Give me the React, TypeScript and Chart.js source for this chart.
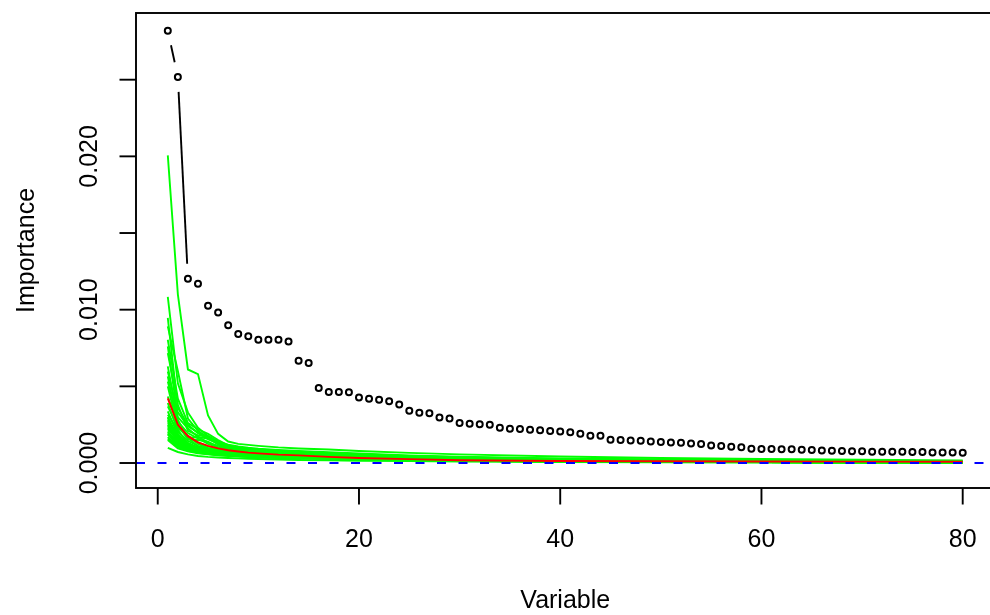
import React, { useEffect, useRef } from "react";
import { Chart, registerables } from "chart.js";

Chart.register(...registerables);

// ---------- data ----------
const variableIndex = Array.from({ length: 80 }, (_, i) => i + 1);

const observedImportance = [
  0.0282, 0.02518, 0.01202, 0.01169, 0.01026, 0.00982, 0.00898, 0.00841, 0.00826, 0.00804,
  0.00804, 0.00804, 0.00793, 0.00667, 0.00652, 0.00489, 0.00463, 0.00463, 0.00461, 0.00428,
  0.00419, 0.00413, 0.00402, 0.00382, 0.00341, 0.00328, 0.00324, 0.00297, 0.00291, 0.00261,
  0.00256, 0.00252, 0.0025, 0.0023, 0.00224, 0.00222, 0.00217, 0.00213, 0.00209, 0.00206,
  0.002, 0.00191, 0.00178, 0.00178, 0.00152, 0.0015, 0.00147, 0.00145, 0.00141, 0.00137,
  0.00134, 0.00132, 0.00128, 0.00124, 0.00115, 0.00111, 0.00106, 0.00102, 0.00093, 0.00091,
  0.00091, 0.00089, 0.00089, 0.00087, 0.00085, 0.00082, 0.0008, 0.00078, 0.00076, 0.00076,
  0.00074, 0.00074, 0.00074, 0.00074, 0.00072, 0.00072, 0.00069, 0.00069, 0.00069, 0.00067,
];

// permutation runs, sampled at these variable positions (values in units of 1e-5)
const PERM_UNIT = 1e-5;
const permX = [1, 2, 3, 4, 5, 6, 7, 8, 9, 10, 12, 14, 17, 20, 25, 30, 40, 50, 60, 70, 80];

const permRun01 = [2006, 1100, 610, 580, 310, 190, 140, 125, 118, 112, 102, 95, 88, 78, 66, 56, 42, 33, 26, 21, 17];
const permRun02 = [1083, 520, 330, 230, 175, 140, 120, 108, 100, 94, 85, 78, 70, 62, 50, 41, 30, 23, 18, 14, 11];
const permRun03 = [946, 360, 250, 195, 155, 125, 108, 97, 90, 85, 77, 70, 62, 55, 44, 36, 26, 20, 15, 12, 9];
const permRun04 = [891, 600, 290, 210, 165, 135, 115, 102, 94, 88, 80, 73, 65, 57, 46, 38, 27, 21, 16, 12, 9];
const permRun05 = [804, 420, 260, 220, 190, 150, 115, 98, 90, 84, 76, 69, 61, 53, 43, 35, 25, 19, 14, 11, 8];
const permRun06 = [760, 300, 225, 170, 135, 112, 98, 90, 84, 79, 72, 65, 57, 50, 40, 33, 23, 18, 13, 10, 7];
const permRun07 = [717, 380, 210, 180, 175, 140, 100, 88, 82, 77, 70, 63, 55, 48, 38, 31, 22, 17, 13, 10, 7];
const permRun08 = [630, 270, 195, 160, 125, 102, 91, 83, 78, 73, 66, 60, 52, 45, 36, 29, 21, 16, 12, 9, 6];
const permRun09 = [597, 330, 240, 200, 170, 120, 90, 81, 76, 71, 64, 58, 50, 43, 35, 28, 20, 15, 11, 8, 6];
const permRun10 = [565, 240, 175, 135, 108, 92, 84, 78, 73, 68, 61, 55, 48, 41, 33, 27, 19, 14, 11, 8, 5];
const permRun11 = [532, 280, 165, 170, 160, 130, 92, 77, 72, 67, 60, 54, 47, 40, 32, 26, 18, 14, 10, 8, 5];
const permRun12 = [500, 225, 180, 125, 98, 86, 78, 72, 67, 63, 57, 51, 44, 38, 30, 24, 17, 13, 10, 7, 5];
const permRun13 = [434, 250, 155, 150, 140, 100, 80, 71, 66, 62, 56, 50, 43, 37, 29, 24, 17, 13, 10, 7, 4];
const permRun14 = [391, 205, 145, 112, 94, 82, 74, 68, 64, 60, 54, 48, 42, 36, 28, 23, 16, 12, 9, 7, 4];
const permRun15 = [369, 235, 165, 108, 90, 79, 71, 66, 62, 58, 52, 47, 41, 35, 27, 22, 16, 12, 9, 6, 4];
const permRun16 = [337, 185, 132, 102, 86, 76, 69, 64, 60, 56, 50, 45, 39, 33, 26, 21, 15, 11, 8, 6, 3];
const permRun17 = [315, 215, 125, 98, 84, 74, 67, 62, 58, 54, 49, 44, 38, 32, 25, 20, 14, 11, 8, 6, 3];
const permRun18 = [293, 165, 128, 95, 80, 71, 64, 60, 56, 52, 47, 42, 36, 31, 24, 19, 14, 10, 8, 5, 3];
const permRun19 = [271, 192, 112, 90, 78, 69, 62, 58, 54, 51, 46, 41, 35, 30, 23, 19, 13, 10, 7, 5, 3];
const permRun20 = [250, 152, 118, 87, 74, 66, 60, 56, 52, 49, 44, 39, 34, 29, 22, 18, 13, 10, 7, 5, 2];
const permRun21 = [228, 142, 102, 82, 71, 63, 58, 54, 50, 47, 42, 38, 33, 28, 22, 17, 12, 9, 7, 5, 2];
const permRun22 = [206, 132, 97, 78, 68, 61, 56, 52, 48, 45, 41, 37, 32, 27, 21, 17, 12, 9, 6, 4, 2];
const permRun23 = [185, 122, 92, 74, 64, 58, 53, 49, 46, 43, 39, 35, 30, 26, 20, 16, 11, 8, 6, 4, 2];
const permRun24 = [98, 72, 56, 46, 40, 36, 33, 30, 28, 26, 23, 20, 17, 15, 12, 10, 7, 5, 4, 3, 1];
const permRun25 = [300, 172, 108, 92, 81, 72, 65, 60, 56, 53, 48, 43, 37, 31, 24, 19, 14, 10, 8, 5, 3];
const permRun26 = [280, 148, 112, 86, 76, 68, 62, 57, 53, 50, 45, 40, 35, 30, 23, 18, 13, 10, 7, 5, 3];
const permRun27 = [260, 178, 100, 84, 73, 65, 59, 55, 51, 48, 43, 39, 34, 29, 22, 18, 13, 9, 7, 5, 2];
const permRun28 = [240, 138, 106, 80, 70, 62, 57, 53, 49, 46, 42, 38, 33, 28, 22, 17, 12, 9, 7, 5, 2];
const permRun29 = [220, 158, 94, 77, 67, 60, 55, 51, 47, 44, 40, 36, 31, 27, 21, 17, 12, 9, 6, 4, 2];
const permRun30 = [200, 128, 98, 76, 66, 59, 54, 50, 46, 43, 39, 35, 30, 26, 20, 16, 11, 8, 6, 4, 2];
const permRun31 = [190, 118, 88, 72, 63, 56, 52, 48, 44, 41, 37, 34, 29, 25, 20, 16, 11, 8, 6, 4, 2];
const permRun32 = [170, 112, 84, 69, 60, 54, 50, 46, 42, 39, 36, 32, 28, 24, 19, 15, 10, 8, 6, 4, 1];
const permRun33 = [160, 102, 80, 66, 58, 52, 48, 44, 41, 38, 34, 31, 27, 23, 18, 15, 10, 7, 5, 3, 1];
const permRun34 = [150, 96, 76, 63, 56, 50, 46, 42, 39, 36, 33, 30, 26, 22, 17, 14, 10, 7, 5, 3, 1];

const permRuns = [
  permRun01, permRun02, permRun03, permRun04, permRun05, permRun06, permRun07, permRun08, permRun09,
  permRun10, permRun11, permRun12, permRun13, permRun14, permRun15, permRun16, permRun17, permRun18,
  permRun19, permRun20, permRun21, permRun22, permRun23, permRun24, permRun25, permRun26, permRun27,
  permRun28, permRun29, permRun30, permRun31, permRun32, permRun33, permRun34,
];

// mean of the permutation runs (red line), same positions, units of 1e-5
const permMean = [421, 250, 175, 135, 112, 95, 83, 75, 68, 63, 55, 50, 40, 33, 25, 18, 13, 11, 10, 9, 8];

// axes
const xRange = [-2.16, 83.16];
const yRange = [-0.00163, 0.02935];
const xTicks = [0, 20, 40, 60, 80];
const xTickLabels = ["0", "20", "40", "60", "80"];
const yTicks = [0, 0.005, 0.01, 0.015, 0.02, 0.025];
const yLabelValues = [0, 0.01, 0.02];
const yLabelTexts = ["0.000", "0.010", "0.020"];
const xTitle = "Variable";
const yTitle = "Importance";

// ---------- styling ----------
const CANVAS_W = 1010;
const CANVAS_H = 615;
const FONT = '25px "Liberation Sans", Arial, Helvetica, sans-serif';
const GAP = 15;
const LW = 1.9;

const rStylePlugin = {
  id: "rStyle",
  afterDatasetsDraw(chart: any) {
    const ctx: CanvasRenderingContext2D = chart.ctx;
    const xs = chart.scales.x;
    const ys = chart.scales.y;
    const a = chart.chartArea;

    ctx.save();
    // type = "b" gapped segments for observed points
    const meta = chart.getDatasetMeta(0);
    ctx.strokeStyle = "#000000";
    ctx.lineWidth = LW;
    ctx.lineCap = "butt";
    for (let i = 0; i < meta.data.length - 1; i++) {
      const p = meta.data[i];
      const q = meta.data[i + 1];
      const dx = q.x - p.x;
      const dy = q.y - p.y;
      const d = Math.hypot(dx, dy);
      if (d > 2 * GAP) {
        const ux = dx / d;
        const uy = dy / d;
        ctx.beginPath();
        ctx.moveTo(p.x + ux * GAP, p.y + uy * GAP);
        ctx.lineTo(q.x - ux * GAP, q.y - uy * GAP);
        ctx.stroke();
      }
    }

    // abline(h = 0, lty = 2, col = "blue")
    const y0 = ys.getPixelForValue(0);
    ctx.strokeStyle = "#0000FF";
    ctx.lineWidth = LW;
    ctx.setLineDash([9, 12.5]);
    ctx.beginPath();
    ctx.moveTo(a.left, y0);
    ctx.lineTo(a.right, y0);
    ctx.stroke();
    ctx.setLineDash([]);

    // box
    ctx.strokeStyle = "#000000";
    ctx.lineWidth = LW;
    ctx.strokeRect(a.left, a.top, a.right - a.left, a.bottom - a.top);

    // x axis ticks + labels
    ctx.fillStyle = "#000000";
    ctx.font = FONT;
    ctx.textAlign = "center";
    ctx.textBaseline = "alphabetic";
    xTicks.forEach((v, i) => {
      const px = xs.getPixelForValue(v);
      ctx.beginPath();
      ctx.moveTo(px, a.bottom);
      ctx.lineTo(px, a.bottom + 16.5);
      ctx.stroke();
      ctx.fillText(xTickLabels[i], px, a.bottom + 59);
    });

    // y axis ticks
    yTicks.forEach((v) => {
      const py = ys.getPixelForValue(v);
      ctx.beginPath();
      ctx.moveTo(a.left, py);
      ctx.lineTo(a.left - 16.5, py);
      ctx.stroke();
    });
    yLabelValues.forEach((v, i) => {
      const py = ys.getPixelForValue(v);
      ctx.save();
      ctx.translate(a.left - 39, py);
      ctx.rotate(-Math.PI / 2);
      ctx.fillText(yLabelTexts[i], 0, 0);
      ctx.restore();
    });

    // titles
    const cx = (a.left + a.right) / 2;
    ctx.fillText(xTitle, cx, a.bottom + 119.5);
    const cy = (a.top + a.bottom) / 2;
    ctx.save();
    ctx.translate(a.left - 102, cy);
    ctx.rotate(-Math.PI / 2);
    ctx.fillText(yTitle, 0, 0);
    ctx.restore();

    ctx.restore();
  },
};

export default function App() {
  const canvasRef = useRef<HTMLCanvasElement | null>(null);

  useEffect(() => {
    const canvas = canvasRef.current;
    if (!canvas) return;

    const greenSets = permRuns.map((run, k) => ({
      label: `perm${k + 1}`,
      data: permX.map((x, i) => ({ x, y: run[i] * PERM_UNIT })),
      borderColor: "#00FF00",
      backgroundColor: "#00FF00",
      borderWidth: LW,
      pointRadius: 0,
      showLine: true,
      tension: 0,
      order: 10 + k,
    }));

    const chart = new Chart(canvas, {
      type: "line",
      data: {
        datasets: [
          {
            label: "Observed",
            data: variableIndex.map((x, i) => ({ x, y: observedImportance[i] })),
            showLine: false,
            pointRadius: 3,
            pointBorderWidth: 2,
            pointBorderColor: "#000000",
            pointBackgroundColor: "rgba(0,0,0,0)",
            borderColor: "#000000",
            order: 0,
          },
          {
            label: "Mean",
            data: permX.map((x, i) => ({ x, y: permMean[i] * PERM_UNIT })),
            borderColor: "#FF0000",
            backgroundColor: "#FF0000",
            borderWidth: LW,
            pointRadius: 0,
            showLine: true,
            tension: 0,
            order: 1,
          },
          ...greenSets,
        ],
      },
      options: {
        animation: false,
        responsive: false,
        devicePixelRatio: 1,
        layout: {
          padding: { left: 136, top: 13, right: CANVAS_W - 994.5, bottom: CANVAS_H - 488 },
        },
        plugins: {
          legend: { display: false },
          tooltip: { enabled: false },
          title: { display: false },
        },
        scales: {
          x: { type: "linear", min: xRange[0], max: xRange[1], display: false },
          y: { type: "linear", min: yRange[0], max: yRange[1], display: false },
        },
      },
      plugins: [rStylePlugin],
    });

    return () => chart.destroy();
  }, []);

  return (
    <div
      style={{
        position: "fixed",
        left: 0,
        top: 0,
        width: 990,
        height: 615,
        overflow: "hidden",
        background: "#ffffff",
      }}
    >
      <canvas
        ref={canvasRef}
        width={CANVAS_W}
        height={CANVAS_H}
        style={{ width: CANVAS_W, height: CANVAS_H, display: "block" }}
      />
    </div>
  );
}
